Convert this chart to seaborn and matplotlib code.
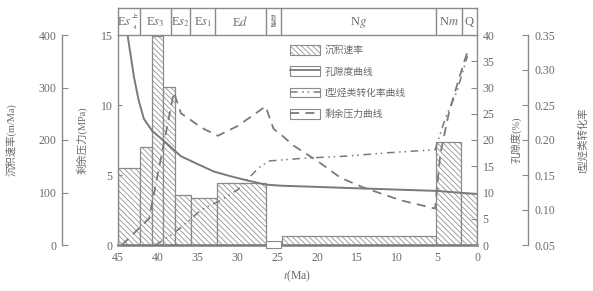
import matplotlib
matplotlib.use("Agg")
import matplotlib.pyplot as plt
import numpy as np
import seaborn as sns
from matplotlib.lines import Line2D
from matplotlib.patches import Patch, Rectangle
from matplotlib.legend_handler import HandlerTuple

sns.set_style("ticks")
plt.rcParams["font.family"] = ["Liberation Serif", "Noto Sans CJK SC"]
plt.rcParams["mathtext.fontset"] = "stix"
plt.rcParams["hatch.linewidth"] = 0.55

TXT = "#6a6a6a"
EDGE = "#8a8a8a"
LINE = "#7a7a7a"
HATCH = "\\" * 6

# ── data ──────────────────────────────────────────────────────────────
# sedimentation rate bars (m/Ma), time in Ma
bar_start = [45.0, 42.3, 40.8, 39.4, 37.9, 35.9, 32.6, 24.5, 5.1, 2.0]
bar_end = [42.3, 40.8, 39.4, 37.9, 35.9, 32.6, 26.5, 5.1, 2.0, 0.0]
sed_rate = [147, 187, 398, 301, 95, 90, 118, 17, 196, 99]

# porosity curve (%)
por_t = [43.8, 43.0, 42.4, 41.75, 40.7, 39.0, 37.1, 35.0, 33.0, 30.9, 28.8, 26.5, 24.6, 15.0, 5.0, 0.0]
por = [40, 32, 27.5, 24, 21.7, 19.5, 16.9, 15.4, 14, 13.1, 12.3, 11.5, 11.3, 10.8, 10.3, 9.7]

# residual pressure curve (MPa)
pres_t = [44.5, 41.1, 38.0, 37.1, 36.3, 34.6, 32.5, 30.0, 26.5, 25.5, 24.4, 23.0, 20.0, 17.1, 14.2, 9.6, 5.25, 4.6, 3.5, 2.2, 1.2]
pres = [0.0, 1.9, 10.9, 9.4, 9.1, 8.4, 7.8, 8.5, 9.9, 8.3, 7.8, 7.1, 6.0, 4.8, 4.1, 3.2, 2.6, 6.5, 9.5, 12.0, 13.8]

# type-I hydrocarbon conversion rate
conv_t = [40.3, 38.4, 36.75, 34.6, 32.1, 30.0, 27.4, 26.1, 21.7, 16.3, 10.9, 5.25, 4.0, 2.5, 1.2]
conv = [0.05, 0.064, 0.078, 0.10, 0.114, 0.129, 0.16, 0.17, 0.174, 0.177, 0.182, 0.186, 0.23, 0.27, 0.32]

# stratigraphic column
strat_edges = [45.0, 42.3, 38.4, 36.0, 32.8, 26.5, 24.6, 5.2, 1.9, 0.0]
strat_names = ["E$s$", "E$s_3$", "E$s_2$", "E$s_1$", "E$d$", "剥\n蚀\n期", "N$g$", "N$m$", "Q"]

x_ticks = [45, 40, 35, 30, 25, 20, 15, 10, 5, 0]
sed_ticks = [0, 100, 200, 300, 400]
pres_ticks = [0, 5, 10, 15]
por_ticks = [0, 5, 10, 15, 20, 25, 30, 35, 40]
conv_ticks = [0.05, 0.10, 0.15, 0.20, 0.25, 0.30, 0.35]

legend_labels = ["沉积速率", "孔隙度曲线", "I型烃类转化率曲线", "剩余压力曲线"]

# ── figure ────────────────────────────────────────────────────────────
W, H = 593, 291
fig = plt.figure(figsize=(W / 100, H / 100), dpi=100)
fig.patch.set_facecolor("white")

x0, x1, y0, y1 = 118, 477, 245, 35
ax = fig.add_axes([x0 / W, 1 - y0 / H, (x1 - x0) / W, (y0 - y1) / H])
ax_p = ax.twinx()
ax_por = ax.twinx()
ax_conv = ax.twinx()

# bars
widths = np.array(bar_start) - np.array(bar_end)
ax.bar(bar_end, sed_rate, width=widths, align="edge", facecolor="white",
       edgecolor=EDGE, hatch=HATCH, linewidth=0.9, zorder=2)
# erosion gap marker on the time axis
ax.add_patch(Rectangle((strat_edges[6], -6), strat_edges[5] - strat_edges[6], 14,
                       facecolor="white", edgecolor=EDGE, lw=0.8, clip_on=False, zorder=5))

# curves
sns.lineplot(x=por_t, y=por, ax=ax_por, sort=False, estimator=None,
             color=LINE, linewidth=1.4)
sns.lineplot(x=pres_t, y=pres, ax=ax_p, sort=False, estimator=None,
             color=LINE, linewidth=1.3, linestyle=(0, (5, 3.5)))
sns.lineplot(x=conv_t, y=conv, ax=ax_conv, sort=False, estimator=None,
             color=LINE, linewidth=1.1, linestyle=(0, (5, 3, 1, 2.5, 1, 3)))

ax.set_xlim(45, 0)
ax.set_ylim(0, 400)
ax_p.set_ylim(0, 15)
ax_por.set_ylim(0, 40)
ax_conv.set_ylim(0.05, 0.35)

# spines
for a in (ax, ax_p, ax_por, ax_conv):
    for s in a.spines.values():
        s.set_visible(False)
        s.set_color(EDGE)
        s.set_linewidth(1.0)

ax.spines["left"].set_visible(True)
ax.spines["left"].set_position(("outward", (x0 - 62) * 0.72))
ax.spines["bottom"].set_visible(True)
ax.spines["bottom"].set_linewidth(1.8)
ax.spines["bottom"].set_color("#7a7a7a")

ax_p.yaxis.tick_left()
ax_p.yaxis.set_label_position("left")
ax_p.spines["left"].set_visible(True)

ax_por.spines["right"].set_visible(True)
ax_conv.spines["right"].set_visible(True)
ax_conv.spines["right"].set_position(("outward", (528 - x1) * 0.72))

# ticks
ax.set_xticks(x_ticks)
ax.set_xticklabels([str(v) for v in x_ticks])
ax.set_yticks(sed_ticks)
ax_p.set_yticks(pres_ticks)
ax_por.set_yticks(por_ticks)
ax_conv.set_yticks(conv_ticks)
ax_conv.set_yticklabels([f"{v:.2f}" for v in conv_ticks])

ax.tick_params(axis="x", direction="in", length=3, color=EDGE, labelcolor=TXT, labelsize=8.5, pad=5)
ax.tick_params(axis="y", direction="in", length=4, color=EDGE, labelcolor=TXT, labelsize=8.5, pad=4)
ax_p.tick_params(axis="y", direction="in", length=3, color=EDGE, labelcolor=TXT, labelsize=8.5, pad=4)
ax_por.tick_params(axis="y", direction="in", length=4, color=EDGE, labelcolor=TXT, labelsize=8.5, pad=4)
ax_conv.tick_params(axis="y", direction="in", length=4, color=EDGE, labelcolor=TXT, labelsize=8.5, pad=5)

# axis labels
ax.set_xlabel("$t$(Ma)", color=TXT, fontsize=8.5, labelpad=3)
ax.set_ylabel("沉积速率(m/Ma)", color=TXT, fontsize=7.5)
ax.yaxis.set_label_coords((17 - x0) / (x1 - x0), 0.5)
ax_p.set_ylabel("剩余压力(MPa)", color=TXT, fontsize=7.5)
ax_p.yaxis.set_label_coords((88 - x0) / (x1 - x0), 0.5)
ax_por.set_ylabel("孔隙度(%)", color=TXT, fontsize=7.5, rotation=90)
ax_por.yaxis.set_label_coords((510 - x0) / (x1 - x0), 0.5)
ax_conv.set_ylabel("I型烃类转化率", color=TXT, fontsize=7.5, rotation=90)
ax_conv.yaxis.set_label_coords((578 - x0) / (x1 - x0), 0.5)

# stratigraphic strip
ax_s = fig.add_axes([x0 / W, 1 - y1 / H, (x1 - x0) / W, 27 / H])
ax_s.set_xlim(45, 0)
ax_s.set_ylim(0, 1)
ax_s.set_xticks([])
ax_s.set_yticks([])
for s in ax_s.spines.values():
    s.set_color(EDGE)
    s.set_linewidth(1.0)
for e in strat_edges[1:-1]:
    ax_s.axvline(e, color=EDGE, lw=1.0)
for i, name in enumerate(strat_names):
    mid = (strat_edges[i] + strat_edges[i + 1]) / 2
    if "\n" in name:
        ax_s.text(mid, 0.5, name, ha="center", va="center", fontsize=3.6,
                  color=TXT, linespacing=0.9)
    elif i == 0:
        # Es with stacked 上 / 4
        ax_s.text(mid + 0.6, 0.48, name, ha="center", va="center", fontsize=9, color=TXT)
        ax_s.text(strat_edges[1] + 0.65, 0.68, "上", ha="center", va="center",
                  fontsize=4.3, color=TXT)
        ax_s.text(strat_edges[1] + 0.65, 0.28, "4", ha="center", va="center",
                  fontsize=5, color=TXT)
    else:
        ax_s.text(mid, 0.48, name, ha="center", va="center", fontsize=9, color=TXT)

# legend
handles = [
    Patch(facecolor="white", edgecolor=EDGE, hatch=HATCH, lw=0.8),
    (Patch(facecolor="none", edgecolor=EDGE, lw=0.8), Line2D([], [], color=LINE, lw=1.3)),
    (Patch(facecolor="none", edgecolor=EDGE, lw=0.8),
     Line2D([], [], color=LINE, lw=1.1, ls=(0, (5, 3, 1, 2.5, 1, 3)))),
    (Patch(facecolor="none", edgecolor=EDGE, lw=0.8),
     Line2D([], [], color=LINE, lw=1.3, ls=(0, (5, 3.5)))),
]
leg = ax_conv.legend(handles, legend_labels, handler_map={tuple: HandlerTuple(ndivide=1)},
                     loc="upper left", bbox_to_anchor=(290 / W, 1 - 45 / H),
                     bbox_transform=fig.transFigure, frameon=False, fontsize=7,
                     handlelength=3.1, handleheight=1.15, labelspacing=1.15,
                     handletextpad=0.5, borderpad=0, borderaxespad=0)
for t in leg.get_texts():
    t.set_color(TXT)

fig.savefig("out.png", dpi=100, facecolor="white")
